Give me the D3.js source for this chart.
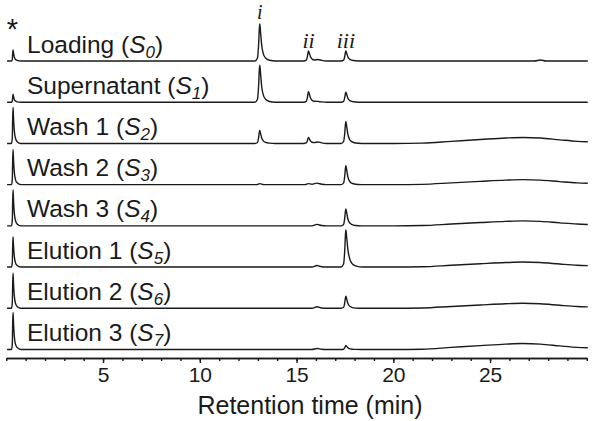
<!DOCTYPE html>
<html><head><meta charset="utf-8">
<script src="https://cdn.jsdelivr.net/npm/d3@7"></script>
<style>
html,body{margin:0;padding:0;background:#fff;}
svg{display:block;}
</style></head>
<body>
<svg id="chart" width="601" height="421"></svg>
<script>
// ---- data (retention time [min], detector signal [a.u.]) ----
const sampleNames = ["Loading", "Supernatant", "Wash 1", "Wash 2", "Wash 3", "Elution 1", "Elution 2", "Elution 3"];
const sampleSubs = ["0", "1", "2", "3", "4", "5", "6", "7"];
const peakLabels = ["i", "ii", "iii"];
const peakTimes = [13.1, 15.62, 17.55];
const xTicks = [5, 10, 15, 20, 25];

const traceLoading = [[0.04,0],[0.27,0],[0.31,1.7],[0.33,7.7],[0.35,11],[0.37,8.3],[0.41,4.2],[0.47,1.7],[0.56,0.6],[0.75,0],
 [12.85,0],[12.98,3],[13.04,16.7],[13.08,33.3],[13.1,37],[13.14,28.9],[13.2,15.5],[13.28,7.4],[13.4,3],[13.6,0.7],[13.9,0],
 [15.37,0],[15.5,0.8],[15.56,4.5],[15.6,9],[15.62,10],[15.66,7.8],[15.72,4.2],[15.8,2],[15.92,1],[16.1,1.5],[16.3,0.6],[16.55,0],
 [17.3,0],[17.43,0.8],[17.49,4.5],[17.53,9],[17.55,10],[17.59,7.8],[17.65,4.2],[17.73,2],[17.85,0.8],[18.05,0.2],[18.35,0],
 [27.3,0],[27.6,1],[27.9,0],[30.05,0]];
const traceSupernatant = [[0.04,0],[0.27,0],[0.31,1.2],[0.33,5.6],[0.35,8],[0.37,6],[0.41,3],[0.47,1.2],[0.56,0.4],[0.75,0],
 [12.85,0],[12.98,3],[13.04,16.7],[13.08,33.3],[13.1,37],[13.14,28.9],[13.2,15.5],[13.28,7.4],[13.4,3],[13.6,0.7],[13.9,0],
 [15.37,0],[15.5,0.8],[15.56,4.7],[15.6,9.5],[15.62,10.5],[15.66,8.2],[15.72,4.4],[15.8,2],[15.92,0.9],[16.1,0.8],[16.3,0.3],[16.55,0],
 [17.3,0],[17.43,0.8],[17.49,4.5],[17.53,9],[17.55,10],[17.59,7.8],[17.65,4.2],[17.73,2],[17.85,0.8],[18.05,0.2],[18.35,0],
 [30.05,0]];
const traceWash1 = [[0.04,0],[0.27,0],[0.31,5.4],[0.33,25],[0.35,36],[0.37,27],[0.41,13.7],[0.47,5.4],[0.56,1.8],[0.75,0],
 [12.85,0],[12.98,1],[13.04,5.9],[13.08,11.7],[13.1,13],[13.14,10.1],[13.2,5.5],[13.28,2.6],[13.4,1],[13.6,0.3],[13.9,0],
 [15.37,0],[15.5,0.5],[15.56,2.7],[15.6,5.4],[15.62,6],[15.66,4.7],[15.72,2.5],[15.8,1.2],[15.92,0.8],[16.1,1.5],[16.3,0.6],[16.55,0],
 [17.3,0],[17.43,1.8],[17.49,9.9],[17.53,19.8],[17.55,22],[17.59,17.2],[17.65,9.2],[17.73,4.4],[17.85,1.8],[18.05,0.4],[18.35,0],
 [20,0],[21.5,0.3],[23,2.1],[24.5,3.9],[25.8,5.4],[26.7,6],[27.6,5.4],[28.6,3.6],[29.5,2.1],[30.05,1.7]];
const traceWash2 = [[0.04,0],[0.27,0],[0.31,5.3],[0.33,24.5],[0.35,35],[0.37,26],[0.41,13.3],[0.47,5.3],[0.56,1.8],[0.75,0],
 [12.95,0],[13.1,1],[13.3,0],
 [15.45,0],[15.6,1],[15.8,0.4],[16.05,1.5],[16.3,0.4],[16.55,0],
 [17.3,0],[17.43,1.5],[17.49,8.6],[17.53,17.1],[17.55,19],[17.59,14.8],[17.65,8],[17.73,3.8],[17.85,1.5],[18.05,0.4],[18.35,0],
 [20,0],[21.5,0.3],[23,1.8],[24.5,3.3],[25.8,4.5],[26.7,5],[27.6,4.5],[28.6,3],[29.5,1.8],[30.05,1.4]];
const traceWash3 = [[0.04,0],[0.27,0],[0.31,5.4],[0.33,25],[0.35,36],[0.37,27],[0.41,13.7],[0.47,5.4],[0.56,1.8],[0.75,0],
 [15.8,0],[16.05,1.5],[16.3,0.3],[16.55,0],
 [17.3,0],[17.43,1.4],[17.49,7.7],[17.53,15.3],[17.55,17],[17.59,13.3],[17.65,7.1],[17.73,3.4],[17.85,1.4],[18.05,0.3],[18.35,0],
 [20,0],[21.5,0.3],[23,1.8],[24.5,3.3],[25.8,4.5],[26.7,5],[27.6,4.5],[28.6,3],[29.5,1.8],[30.05,1.4]];
const traceElution1 = [[0.04,0],[0.27,0],[0.31,4.5],[0.33,21],[0.35,30],[0.37,22.5],[0.41,11.4],[0.47,4.5],[0.56,1.5],[0.75,0],
 [15.8,0],[16.05,1.5],[16.3,0.3],[16.55,0],
 [17.3,0],[17.43,3],[17.49,16.7],[17.53,33.3],[17.55,37],[17.59,30],[17.65,18],[17.73,9.5],[17.85,4],[18.05,1.2],[18.45,0],
 [20,0],[21.5,0.3],[23,1.8],[24.5,3.3],[25.8,4.5],[26.7,5],[27.6,4.5],[28.6,3],[29.5,1.8],[30.05,1.4]];
const traceElution2 = [[0.04,0],[0.27,0],[0.31,5.3],[0.33,24.5],[0.35,35],[0.37,26],[0.41,13.3],[0.47,5.3],[0.56,1.8],[0.75,0],
 [15.8,0],[16.05,1.5],[16.3,0.3],[16.55,0],
 [17.3,0],[17.43,1],[17.49,5.4],[17.53,10.8],[17.55,12],[17.59,9.4],[17.65,5],[17.73,2.4],[17.85,1],[18.05,0.2],[18.35,0],
 [20,0],[21.5,0.3],[23,1.8],[24.5,3.3],[25.8,4.5],[26.7,5],[27.6,4.5],[28.6,3],[29.5,1.8],[30.05,1.4]];
const traceElution3 = [[0.04,0],[0.27,0],[0.31,5.6],[0.33,26],[0.35,37],[0.37,28],[0.41,14],[0.47,5.6],[0.56,1.9],[0.75,0],
 [15.8,0],[16.05,1],[16.3,0.2],[16.55,0],
 [17.3,0],[17.43,0.3],[17.49,1.8],[17.53,3.6],[17.55,4],[17.59,3.1],[17.65,1.7],[17.73,0.8],[17.85,0.3],[18.05,0.1],[18.35,0],
 [20,0],[21.5,0.3],[23,2.1],[24.5,3.9],[25.8,5.4],[26.7,6],[27.6,5.4],[28.6,3.6],[29.5,2.1],[30.05,1.7]];
const traces = [traceLoading, traceSupernatant, traceWash1, traceWash2, traceWash3, traceElution1, traceElution2, traceElution3];

// ---- scales ----
const svg = d3.select("#chart");
const x = d3.scaleLinear().domain([0, 30]).range([6.3, 586.8]);
const offset = d3.scaleLinear().domain([0, 7]).range([61, 349.5]);
const sig = d3.scaleLinear().domain([0, 40]).range([0, 40]);

const ink = "#1a1a1a";
const sans = "'Liberation Sans', Arial, Helvetica, sans-serif";
const serif = "'Liberation Serif', 'Times New Roman', Times, serif";
const line = d3.line().x(d => x(d[0])).curve(d3.curveMonotoneX);

traces.forEach((tr, i) => {
  svg.append("path")
    .datum(tr)
    .attr("fill", "none")
    .attr("stroke", ink)
    .attr("stroke-width", 1.4)
    .attr("stroke-linejoin", "round")
    .attr("d", line.y(d => offset(i) - sig(d[1])));

  const t = svg.append("text")
    .attr("x", 27)
    .attr("y", offset(i) - 8.5)
    .style("font-family", sans)
    .style("font-size", "24.5px")
    .attr("fill", ink);
  t.append("tspan").text(sampleNames[i] + " (");
  t.append("tspan").style("font-style", "italic").text("S");
  t.append("tspan").style("font-style", "italic").style("font-size", "17px").attr("dy", 5).text(sampleSubs[i]);
  t.append("tspan").attr("dy", -5).text(")");
});

// peak labels
const peakLabelY = [19, 48, 48];
const peakLabelSize = [20, 22, 22];
peakLabels.forEach((lab, k) => {
  svg.append("text")
    .attr("x", x(peakTimes[k]))
    .attr("y", peakLabelY[k])
    .attr("text-anchor", "middle")
    .style("font-family", serif)
    .style("font-style", "italic")
    .style("font-size", peakLabelSize[k] + "px")
    .attr("fill", ink)
    .text(lab);
});

// injection marker
svg.append("text")
  .attr("x", x(0.32))
  .attr("y", 39)
  .attr("text-anchor", "middle")
  .style("font-family", sans)
  .style("font-size", "29px")
  .attr("fill", ink)
  .text("*");

// ---- axis ----
const axisY = 358;
const minorAxis = d3.axisBottom(x).tickValues(d3.range(0, 31, 1)).tickSize(3).tickSizeOuter(0).tickFormat("");
const gMinor = svg.append("g").attr("transform", `translate(0,${axisY})`).call(minorAxis);
const majorAxis = d3.axisBottom(x).tickValues(xTicks).tickSize(5).tickSizeOuter(0).tickPadding(4);
const gMajor = svg.append("g").attr("transform", `translate(0,${axisY})`).call(majorAxis);
[gMinor, gMajor].forEach(g => {
  g.selectAll("path,line").attr("stroke", ink).attr("stroke-width", 1.4);
});
gMajor.selectAll("text")
  .style("font-family", sans)
  .style("font-size", "21px")
  .attr("fill", ink);

svg.append("text")
  .attr("x", 310)
  .attr("y", 414)
  .attr("text-anchor", "middle")
  .style("font-family", sans)
  .style("font-size", "25px")
  .attr("fill", ink)
  .text("Retention time (min)");
</script>
</body></html>
